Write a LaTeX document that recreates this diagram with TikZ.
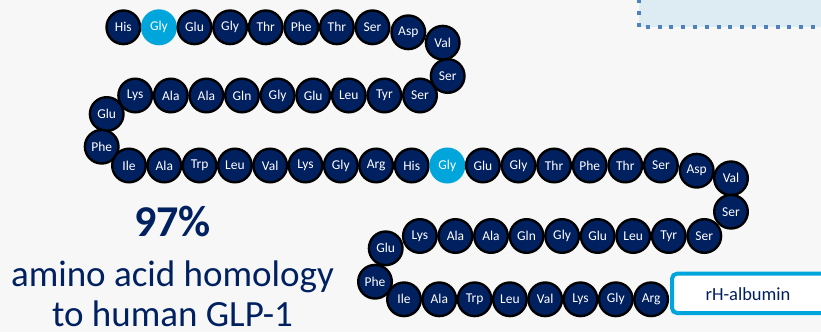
\documentclass[tikz,border=0pt]{standalone}
\usepackage{fontspec}
\setmainfont{Carlito}
\definecolor{navy}{HTML}{002060}
\definecolor{glycyan}{HTML}{00A5DC}
\definecolor{bggray}{HTML}{F7F7F7}
\definecolor{notefill}{HTML}{DDEBF2}
\definecolor{noteline}{HTML}{4F81BD}

\tikzset{
  aa/.style={circle, draw=black, line width=2.4pt, fill=navy, text=white,
    minimum size=33.6pt, inner sep=0pt, font=\fontsize{13.5}{14}\selectfont},
  aalt/.style={aa, draw=glycyan, fill=glycyan},
  note/.style={anchor=base, inner sep=0pt, text=navy, font=\fontsize{37}{40}\selectfont},
}

\begin{document}
\begin{tikzpicture}[x=1pt, y=-1pt]
  % Page and background
  \useasboundingbox (0,0) rectangle (821,332);
  \fill[bggray] (0,0) rectangle (821,332);
  \clip (0,0) rectangle (821,332);

  % Dotted box in the corner
  \fill[notefill] (639,-10) rectangle (840,27);
  \draw[noteline, line width=4.2pt, dash pattern=on 4pt off 7.8pt]
    (639,27) -- (639,-10);
  \draw[noteline, line width=4.2pt, dash pattern=on 4pt off 7.8pt, dash phase=5.1pt]
    (639,27) -- (840,27);

  % First GLP-1 copy
  \foreach \res/\sty [count=\i] in {His/aa,Gly/aalt,Glu/aa,Gly/aa,Thr/aa,Phe/aa,Thr/aa,Ser/aa}
    \node[\sty] (g\i) at ({123.3+35.6*(\i-1)},27.3) {\res};
  \foreach \res/\x/\y [count=\i from 9] in {Asp/408.3/32.3, Val/442.7/42.7, Ser/447.7/76}
    \node[aa] (g\i) at (\x,\y) {\res};
  \foreach \res [count=\i from 12] in {Ser,Tyr,Leu,Glu,Gly,Gln,Ala,Ala,Lys}
    \node[aa] (g\i) at ({420-35.6*(\i-12)},95.5) {\res};
  \node[aa] (g21) at (106.7,114) {Glu};
  \node[aa] (g22) at (101.7,146.7) {Phe};
  \foreach \res [count=\i from 23] in {Ile,Ala,Trp,Leu,Val,Lys,Gly,Arg}
    \node[aa] (g\i) at ({129+35.3*(\i-23)},165.5) {\res};

  % Second GLP-1 copy
  \foreach \res/\sty [count=\i] in {His/aa,Gly/aalt,Glu/aa,Gly/aa,Thr/aa,Phe/aa,Thr/aa,Ser/aa}
    \node[\sty] (h\i) at ({411.7+35.6*(\i-1)},165.5) {\res};
  \foreach \res/\x/\y [count=\i from 9] in {Asp/696.7/170.7, Val/731/178.3, Ser/731/211.7}
    \node[aa] (h\i) at (\x,\y) {\res};
  \foreach \res [count=\i from 12] in {Ser,Tyr,Leu,Glu,Gly,Gln,Ala,Ala,Lys}
    \node[aa] (h\i) at ({704.3-35.55*(\i-12)},236) {\res};
  \node[aa] (h21) at (385.7,248.3) {Glu};
  \node[aa] (h22) at (375,281.7) {Phe};
  \foreach \res [count=\i from 23] in {Ile,Ala,Trp,Leu,Val,Lys,Gly,Arg}
    \node[aa] (h\i) at ({404+35.3*(\i-23)},299.3) {\res};

  % Albumin fusion partner
  \draw[glycyan, line width=4pt, fill=white, rounded corners=5pt]
    (672,273.7) rectangle (850,313);
  \node[text=navy, font=\fontsize{18.5}{20}\selectfont] (alb) at (748,294) {rH-albumin};

  % Homology note
  \node[note, font=\fontsize{44}{48}\selectfont\bfseries] (pct) at (172.5,236.7) {97\%};
  \node[note] (homol) at (172.5,286.2) {amino acid homology};
  \node[note] (human) at (172.5,326.5) {to human GLP-1};
\end{tikzpicture}
\end{document}
